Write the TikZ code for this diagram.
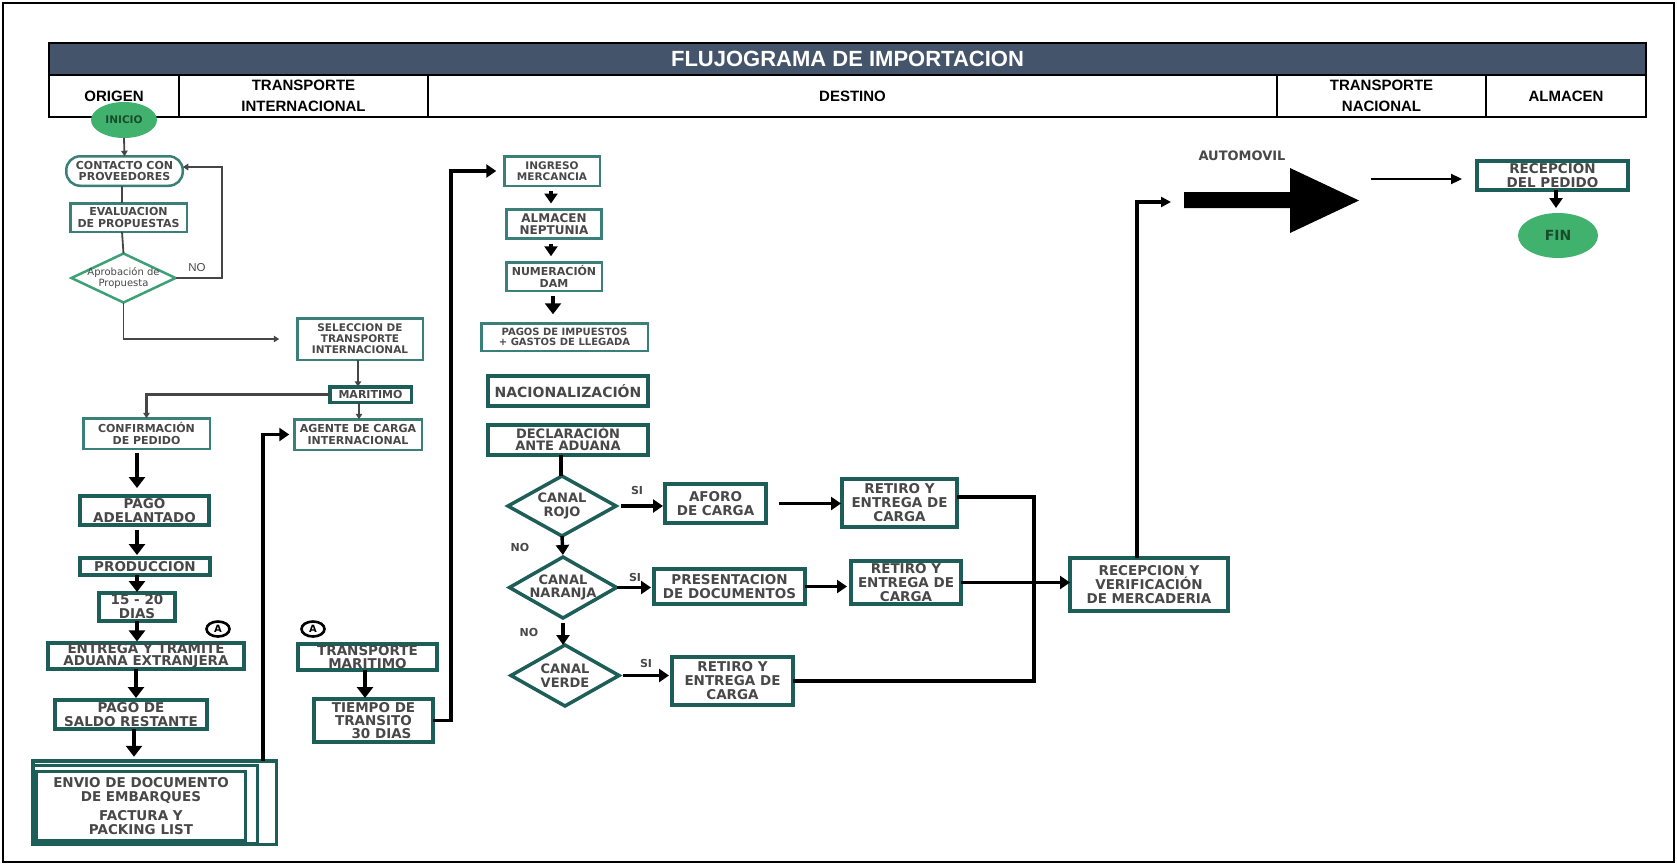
\documentclass[tikz,border=0pt]{standalone}
\usepackage{fontspec}
\setmainfont{Liberation Sans}
\newfontfamily\vfont{DejaVu Sans}
\usetikzlibrary{arrows.meta,shapes.geometric}

\definecolor{bandblue}{RGB}{68,84,106}
\definecolor{tealdk}{RGB}{30,94,88}
\definecolor{teallt}{RGB}{58,128,120}
\definecolor{dmgreen}{RGB}{62,160,118}
\definecolor{termgreen}{RGB}{64,178,110}
\definecolor{termtxt}{RGB}{25,75,45}
\definecolor{txtgray}{RGB}{72,72,72}
\definecolor{linegray}{RGB}{70,70,70}

\newcommand\txtS{\vfont\bfseries\fontsize{11}{11.5}\selectfont}
\newcommand\txtM{\vfont\bfseries\fontsize{13.5}{14}\selectfont}

\begin{document}
\begin{tikzpicture}[x=1pt,y=-1pt,line join=miter,
  every node/.style={inner sep=0pt,outer sep=0pt},
  colcell/.style={rectangle,draw=black,line width=2pt,fill=white,minimum height=42pt,
    align=center,font=\bfseries\fontsize{15}{21}\selectfont},
  lbox/.style={rectangle,draw=teallt,line width=2.5pt,fill=white,align=center,
    text=txtgray,font=\txtS},
  hbox/.style={rectangle,draw=tealdk,line width=4pt,fill=white,align=center,
    text=txtgray,font=\txtM},
  canal/.style={diamond,draw=tealdk,line width=3.5pt,fill=white},
  canaltxt/.style={align=center,text=txtgray,font=\vfont\bfseries\fontsize{13}{13.5}\selectfont},
  term/.style={ellipse,fill=termgreen,text=termtxt},
  acirc/.style={ellipse,draw=black,line width=2.6pt,fill=white,minimum width=23pt,
    minimum height=15pt,font=\vfont\bfseries\fontsize{10}{10}\selectfont},
  tk/.style={line width=3.4pt,-{Triangle[width=13pt,length=10pt]}},
  tkb/.style={line width=3.6pt,-{Triangle[width=16pt,length=11pt]}},
  tkl/.style={line width=3.4pt},
  tn/.style={draw=linegray,line width=1.8pt,-{Triangle[width=6.5pt,length=5.5pt]}},
  tnl/.style={draw=linegray,line width=1.8pt},
  lbl/.style={text=txtgray,font=\vfont\bfseries\fontsize{11}{11}\selectfont},
]
\useasboundingbox (0,0) rectangle (1677,865);

% frame
\draw[line width=1.5pt] (3,3) rectangle (1674,862);

% title band and lane headers
\node[fill=bandblue,draw=black,line width=1.2pt,minimum width=1597pt,minimum height=32pt,
  text=white,font=\bfseries\fontsize{22}{22}\selectfont] (title) at (847.5,59) {FLUJOGRAMA DE IMPORTACION};
\node[colcell,minimum width=130pt] (hOrigen) at (114,96) {ORIGEN};
\node[colcell,minimum width=249pt] (hTint) at (303.5,96) {TRANSPORTE\\INTERNACIONAL};
\node[colcell,minimum width=849pt] (hDest) at (852.5,96) {DESTINO};
\node[colcell,minimum width=209pt] (hTnac) at (1381.5,96) {TRANSPORTE\\NACIONAL};
\node[colcell,minimum width=160pt] (hAlm) at (1566,96) {ALMACEN};

% ---------- origin lane ----------
\node[term,minimum width=66pt,minimum height=36pt,font=\vfont\bfseries\fontsize{10.5}{10.5}\selectfont] (inicio) at (124,120) {INICIO};
\node[lbox,minimum width=116.5pt,minimum height=29.5pt,rounded corners=14pt] (contacto) at (124.5,171) {CONTACTO CON\\PROVEEDORES};
\node[lbox,minimum width=116.5pt,minimum height=28.5pt] (evaluacion) at (128.5,217.5) {EVALUACION\\DE PROPUESTAS};
\node[diamond,draw=dmgreen,line width=2.5pt,fill=white,minimum width=104pt,minimum height=49pt,
  label={[align=center,text=txtgray,font=\vfont\fontsize{10}{10.5}\selectfont]center:Aprobación de\\Propuesta}] (aprob) at (123.5,278) {};
\node[text=txtgray,font=\fontsize{11.5}{11.5}\selectfont] (nolbl) at (197,268) {NO};

\node[lbox,minimum width=125.5pt,minimum height=41.5pt,font=\vfont\bfseries\fontsize{10.5}{11}\selectfont] (seleccion) at (360,339) {SELECCION DE\\TRANSPORTE\\INTERNACIONAL};
\node[lbox,draw=tealdk,line width=3.5pt,minimum width=81.5pt,minimum height=15.5pt] (maritimo) at (370.5,394.5) {MARITIMO};
\node[lbox,minimum width=126.5pt,minimum height=30.5pt] (confirm) at (146.5,433.5) {CONFIRMACIÓN\\DE PEDIDO};
\node[lbox,minimum width=127.5pt,minimum height=30.5pt] (agente) at (358,434.5) {AGENTE DE CARGA\\INTERNACIONAL};

\node[hbox,minimum width=129pt,minimum height=29pt] (pagoadel) at (144.5,510.5) {PAGO\\ADELANTADO};
\node[hbox,minimum width=130pt,minimum height=17pt] (produccion) at (145,566.5) {PRODUCCION};
\node[hbox,minimum width=76pt,minimum height=28pt] (dias) at (137,607) {15 - 20\\DIAS};
\node[hbox,minimum width=196pt,minimum height=24pt,font=\vfont\bfseries\fontsize{13.5}{12.5}\selectfont] (entrega) at (146,656) {ENTREGA Y TRAMITE\\ADUANA EXTRANJERA};
\node[hbox,minimum width=152pt,minimum height=29pt] (saldo) at (131,714.5) {PAGO DE\\SALDO RESTANTE};

% stacked documents
\node[hbox,line width=3.5pt,minimum width=243.5pt,minimum height=83.5pt] (envioback) at (154.5,802.5) {};
\node[hbox,line width=3pt,minimum width=224pt,minimum height=78pt] (enviomid) at (145.5,804.5) {};
\node[hbox,line width=3pt,minimum width=209pt,minimum height=69pt] (envio) at (141,806) {ENVIO DE DOCUMENTO\\DE EMBARQUES\\[5pt]FACTURA Y\\PACKING LIST};

\node[acirc] (a1) at (218,629) {A};
\node[acirc] (a2) at (313,629) {A};
\node[hbox,minimum width=139pt,minimum height=26pt,font=\vfont\bfseries\fontsize{13.5}{12.5}\selectfont] (transmar) at (367.5,657) {TRANSPORTE\\MARITIMO};
\node[hbox,minimum width=119pt,minimum height=43pt,font=\vfont\bfseries\fontsize{13.5}{13}\selectfont] (tiempo) at (373.5,720.5) {TIEMPO DE\\TRANSITO\\\hspace*{16pt}30 DIAS};

% ---------- destination lane ----------
\node[lbox,minimum width=95.5pt,minimum height=29.5pt,font=\vfont\bfseries\fontsize{10.5}{11}\selectfont] (ingreso) at (552,171) {INGRESO\\MERCANCIA};
\node[lbox,line width=3pt,minimum width=95pt,minimum height=29pt,font=\vfont\bfseries\fontsize{12}{12.5}\selectfont] (almacen) at (554,224) {ALMACEN\\NEPTUNIA};
\node[lbox,minimum width=95.5pt,minimum height=28.5pt] (numeracion) at (554,276.5) {NUMERACIÓN\\DAM};
\node[lbox,minimum width=166.5pt,minimum height=27.5pt,font=\vfont\bfseries\fontsize{10}{10.5}\selectfont] (pagos) at (564.5,337) {PAGOS DE IMPUESTOS\\+ GASTOS DE LLEGADA};
\node[hbox,minimum width=160pt,minimum height=30pt,font=\vfont\bfseries\fontsize{14}{14}\selectfont] (nacional) at (568,391) {NACIONALIZACIÓN};
\node[hbox,minimum width=160pt,minimum height=30pt,font=\vfont\bfseries\fontsize{13}{12.5}\selectfont] (declaracion) at (568,440) {\raisebox{0pt}[9pt][0pt]{DECLARACIÓN}\\ANTE ADUANA};

\node[canal,minimum width=108pt,minimum height=60pt,label={[canaltxt]center:CANAL\\ROJO}] (rojo) at (562,506) {};
\node[canal,minimum width=107pt,minimum height=61pt,label={[canaltxt]center:CANAL\\NARANJA}] (naranja) at (563,587.5) {};
\node[canal,minimum width=108pt,minimum height=61pt,label={[canaltxt]center:CANAL\\VERDE}] (verde) at (565,675.5) {};

\node[hbox,minimum width=101pt,minimum height=39pt] (aforo) at (715.5,503.5) {AFORO\\DE CARGA};
\node[hbox,minimum width=115pt,minimum height=48pt] (retiro1) at (899.5,503) {RETIRO Y\\ENTREGA DE\\CARGA};
\node[hbox,minimum width=151pt,minimum height=35pt] (presentacion) at (729.5,586.5) {PRESENTACION\\DE DOCUMENTOS};
\node[hbox,minimum width=110pt,minimum height=43pt] (retiro2) at (906,582.5) {RETIRO Y\\ENTREGA DE\\CARGA};
\node[hbox,minimum width=121pt,minimum height=48pt] (retiro3) at (732.5,681) {RETIRO Y\\ENTREGA DE\\CARGA};
\node[hbox,minimum width=158pt,minimum height=53pt] (recepcion) at (1149,584.5) {RECEPCION Y\\VERIFICACIÓN\\DE MERCADERIA};

\node[lbl] (no1) at (520,547) {NO};
\node[lbl] (no2) at (529,632) {NO};
\node[lbl] (si1) at (637,490) {SI};
\node[lbl] (si2) at (635,577) {SI};
\node[lbl] (si3) at (646,663) {SI};

% ---------- national transport and warehouse ----------
\coordinate (autoin) at (1171,202);
\coordinate (autoout) at (1371,179);
\fill (1184,192) -- (1290,192) -- (1290,168) -- (1359,200.5) -- (1290,233) -- (1290,208) -- (1184,208) -- cycle;
\node[lbl,font=\vfont\bfseries\fontsize{13}{13}\selectfont] (autolbl) at (1242,156) {AUTOMOVIL};
\node[hbox,minimum width=151pt,minimum height=29pt,font=\vfont\bfseries\fontsize{13.5}{13.5}\selectfont] (pedido) at (1552.5,175.5) {RECEPCION\\DEL PEDIDO};
\node[term,minimum width=80pt,minimum height=45pt,font=\vfont\bfseries\fontsize{14}{14}\selectfont] (fin) at (1558,235.5) {FIN};

% ---------- connectors: origin ----------
\draw[tn] (inicio.south) -- (contacto.north);
\draw[tnl] ([xshift=-2.5pt]contacto.south) -- ([xshift=-6.5pt]evaluacion.north);
\draw[tnl] ([xshift=-6.5pt]evaluacion.south) -- (aprob.north);
\draw[tn] (aprob.east) -- ++(46.5,0) |- ([yshift=4pt]contacto.east);
\draw[tn,shorten >=18pt] (aprob.south) |- (seleccion.west);
\draw[tn] ([xshift=-2pt]seleccion.south) -- ([xshift=-12.5pt]maritimo.north);
\draw[tn] ([xshift=-11.5pt]maritimo.south) -- ([xshift=1pt]agente.north);
\draw[tn,line width=2.2pt] (maritimo.west) -| (confirm.north);

\draw[tkb,shorten <=4pt,shorten >=8pt] ([xshift=-9.5pt]confirm.south) -- ([xshift=-7.5pt]pagoadel.north);
\draw[tkb,shorten <=5pt,shorten >=3pt] ([xshift=-7.5pt]pagoadel.south) -- ([xshift=-8pt]produccion.north);
\draw[tkb,shorten >=1pt] ([xshift=-8pt]produccion.south) -- (dias.north);
\draw[tkb,shorten >=2pt] (dias.south) -- ([xshift=-9pt]entrega.north);
\draw[tkb,shorten >=2pt] ([xshift=-10pt]entrega.south) -- ([xshift=5pt]saldo.north);
\draw[tkb,shorten >=4pt] ([xshift=3pt]saldo.south) -- ([xshift=-20.5pt]envioback.north);
\draw[tk,shorten >=5pt] ([xshift=108.5pt]envioback.north) |- (agente.west);
\draw[tkb,shorten >=1pt] ([xshift=-2.5pt]transmar.south) -- ([xshift=-8.5pt]tiempo.north);
\draw[tk,shorten >=8pt] (tiempo.east) -- ++(18,0) |- (ingreso.west);

% ---------- connectors: destination ----------
\draw[tk,shorten <=5pt,shorten >=6pt] ([xshift=-1pt]ingreso.south) -- ([xshift=-3pt]almacen.north);
\draw[tk,shorten <=5pt,shorten >=6pt] ([xshift=-3pt]almacen.south) -- ([xshift=-3pt]numeracion.north);
\draw[tkb,shorten <=5pt,shorten >=9pt] ([xshift=-1pt]numeracion.south) -- ([xshift=-11.5pt]pagos.north);
\draw[tkl] ([xshift=-7pt]declaracion.south) -- ([xshift=-1pt]rojo.north);
\draw[tk,shorten >=2pt] (rojo.south) -- (naranja.north);
\draw[tk,shorten <=5pt] (naranja.south) -- ([xshift=-2pt]verde.north);
\draw[tk,shorten <=5pt,shorten >=2pt] (rojo.east) -- (rojo.east -| aforo.west);
\draw[tk,shorten <=13pt,shorten >=1pt] (aforo.east) -- (aforo.east -| retiro1.west);
\draw[tk,shorten >=3pt] (naranja.east) -- (naranja.east -| presentacion.west);
\draw[tk,shorten >=4pt] (presentacion.east) -- (presentacion.east -| retiro2.west);
\draw[tk,shorten <=4pt,shorten >=3pt] (verde.east) -- (verde.east -| retiro3.west);
\draw[tkl] ([yshift=6pt]retiro1.east) -- ++(77,0) |- (retiro3.east);
\draw[tk] (retiro2.east) -- (retiro2.east -| recepcion.west);
\draw[tk,-{Triangle[width=10pt,length=10pt]}] ([xshift=-12pt]recepcion.north) |- (autoin);

% ---------- connectors: warehouse ----------
\draw[line width=2.2pt,-{Triangle[width=10pt,length=11pt]},shorten >=15pt] (autoout) -- (autoout -| pedido.west);
\draw[tk,shorten >=5pt] ([xshift=3.5pt]pedido.south) -- ([xshift=-2pt]fin.north);
\end{tikzpicture}
\end{document}
